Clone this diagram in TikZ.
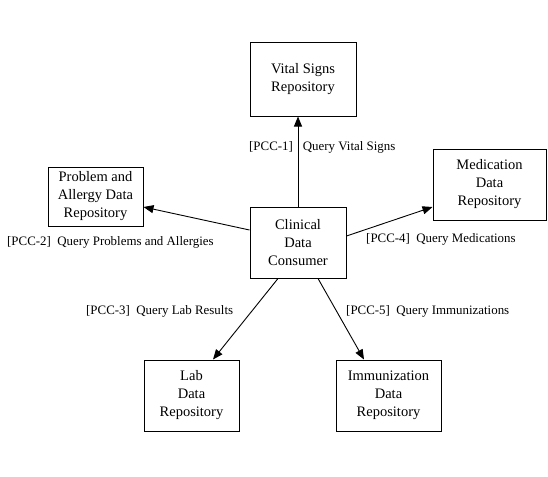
\documentclass[tikz,border=0pt]{standalone}
\usepackage{fontspec}
\setmainfont{Liberation Serif}
\usetikzlibrary{arrows.meta}
\begin{document}
\begin{tikzpicture}[x=1pt,y=-1pt,
  repo/.style={draw,line width=1pt,align=center,inner sep=0pt,font=\fontsize{14.5}{18}\selectfont},
  lbl/.style={anchor=west,inner sep=0pt,font=\fontsize{12.9}{14}\selectfont},
  conn/.style={line width=0.9pt,-{Triangle[length=10pt,width=8pt]}}]
\useasboundingbox (0,0) rectangle (548,476);
\node[repo,minimum width=106pt,minimum height=73pt] (vital) at (303,79.5) {Vital Signs\\Repository};
\node[repo,minimum width=95pt,minimum height=59pt] (prob) at (95.5,196.5) {Problem and\\Allergy Data\\Repository};
\node[repo,minimum width=96pt,minimum height=71pt] (clin) at (298,242.5) {Clinical\\Data\\Consumer};
\node[repo,minimum width=113pt,minimum height=71pt] (med) at (489.5,184.5) {Medication\\Data\\Repository};
\node[repo,minimum width=95pt,minimum height=71pt] (lab) at (191.5,395.5) {Lab\\Data\\Repository};
\node[repo,minimum width=105pt,minimum height=71pt] (imm) at (388.5,395.5) {Immunization\\Data\\Repository};
\draw[conn] (clin.north) -- (clin.north |- vital.south);
\draw[conn] ([yshift=12.5pt]clin.west) -- ([yshift=-10.5pt]prob.east);
\draw[conn] ([yshift=6.5pt]clin.east) -- ([yshift=-22.5pt]med.west);
\draw[conn] ([xshift=-20pt]clin.south) -- ([xshift=21.5pt]lab.north);
\draw[conn] ([xshift=20pt]clin.south) -- ([xshift=-24.5pt]imm.north);
\node[lbl] (l1) at (249,147) {[PCC-1]\hspace{10pt}Query Vital Signs};
\node[lbl] (l2) at (7,242) {[PCC-2]\ \ Query Problems and Allergies};
\node[lbl] (l4) at (366,239) {[PCC-4]\ \ Query Medications};
\node[lbl] (l3) at (86,311) {[PCC-3]\ \ Query Lab Results};
\node[lbl] (l5) at (346,311) {[PCC-5]\ \ Query Immunizations};
\end{tikzpicture}
\end{document}
